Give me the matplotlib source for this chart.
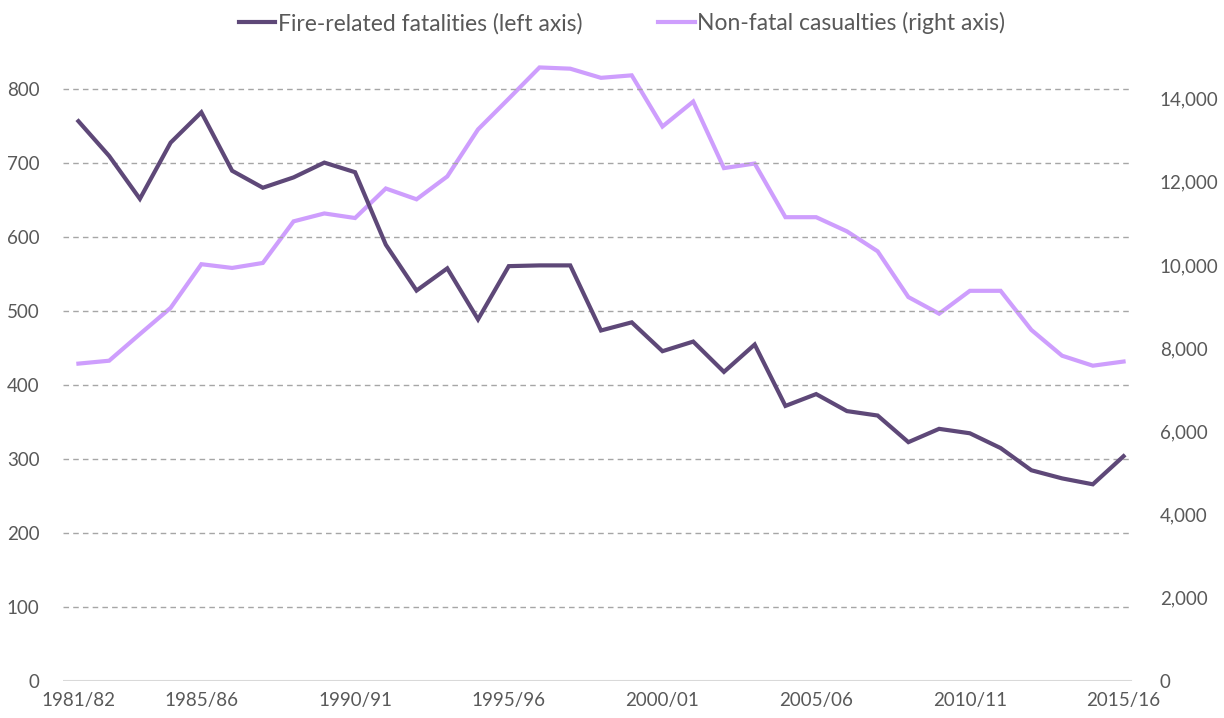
import numpy as np
import matplotlib.pyplot as plt

plt.rcParams['font.family'] = ['Lato', 'DejaVu Sans']

years = ['1981/82', '1982/83', '1983/84', '1984/85', '1985/86', '1986/87', '1987/88',
         '1988/89', '1989/90', '1990/91', '1991/92', '1992/93', '1993/94', '1994/95',
         '1995/96', '1996/97', '1997/98', '1998/99', '1999/00', '2000/01', '2001/02',
         '2002/03', '2003/04', '2004/05', '2005/06', '2006/07', '2007/08', '2008/09',
         '2009/10', '2010/11', '2011/12', '2012/13', '2013/14', '2014/15', '2015/16']

# fire-related fatalities (left axis)
fatalities = [757, 710, 652, 728, 769, 690, 667, 681, 701, 688, 590, 528, 558, 489,
              561, 562, 562, 474, 485, 446, 459, 418, 455, 372, 388, 365, 359, 323,
              341, 335, 315, 285, 274, 266, 304]

# non-fatal casualties (right axis)
casualties = [7630, 7700, 8340, 8970, 10020, 9930, 10050, 11050, 11240, 11130, 11840,
              11580, 12130, 13260, 14000, 14750, 14720, 14500, 14560, 13330, 13930,
              12330, 12440, 11150, 11150, 10810, 10330, 9230, 8830, 9380, 9380, 8440,
              7820, 7580, 7680]

tick_labels = ['1981/82', '1985/86', '1990/91', '1995/96', '2000/01', '2005/06',
               '2010/11', '2015/16']

dark = '#5E4878'
light = '#CE9EFD'
txt = '#595959'

fig = plt.figure(figsize=(12.24, 7.18), dpi=100)
ax = fig.add_axes([0.0515, 0.0515, 0.879, 0.927])
ax2 = ax.twinx()

x = np.arange(len(years))
l1, = ax.plot(x, fatalities, color=dark, lw=3, solid_joinstyle='miter', zorder=3)
l2, = ax2.plot(x, casualties, color=light, lw=3, solid_joinstyle='miter', zorder=3)

ax.set_xlim(-0.5, len(years) - 0.5)
ax.set_ylim(0, 900)
ax2.set_ylim(0, 16000)
ax.set_yticks(range(0, 900, 100))
ax2.set_yticks(range(0, 16000, 2000))
ax2.set_yticklabels([f'{v:,}' for v in range(0, 16000, 2000)])

for v in range(100, 900, 100):
    ax.axhline(v, color='#A6A6A6', lw=1, ls=(0, (4, 3)), xmax=0.993, zorder=1)
ax.axhline(0, color='#D9D9D9', lw=1.5, xmax=0.993, zorder=1)

pos = [years.index(t) for t in tick_labels]
ax.set_xticks(pos)
ax.set_xticklabels(tick_labels)

for a in (ax, ax2):
    for s in a.spines.values():
        s.set_visible(False)
    a.tick_params(length=0, labelsize=13.5, colors=txt)
ax.tick_params(axis='y', pad=17)
ax2.tick_params(axis='y', pad=15)
ax.tick_params(axis='x', pad=8)

ax.set_zorder(ax2.get_zorder() + 1)
ax.patch.set_visible(False)

fig.legend([l1, l2], ['Fire-related fatalities (left axis)', 'Non-fatal casualties (right axis)'],
           loc='upper center', bbox_to_anchor=(0.508, 1.012), ncol=2, frameon=False,
           fontsize=16.5, labelcolor=txt, handlelength=1.6, handletextpad=0.1,
           columnspacing=3.3)

fig.savefig('out.png', dpi=100)
